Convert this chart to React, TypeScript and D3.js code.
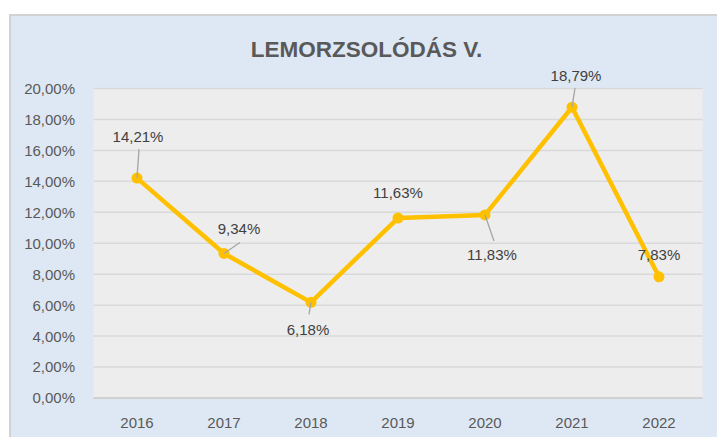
import React from "react";
import * as d3 from "d3";

const title = "LEMORZSOLÓDÁS V.";
const years = ["2016", "2017", "2018", "2019", "2020", "2021", "2022"];
const values = [14.21, 9.34, 6.18, 11.63, 11.83, 18.79, 7.83];
const yTicks = [0, 2, 4, 6, 8, 10, 12, 14, 16, 18, 20];

// label placement relative to its point: label center dx, baseline dy
const labelOffsets: [number, number][] = [
  [1, -36],
  [15, -19],
  [-3, 33],
  [0, -20],
  [7, 45],
  [4, -26],
  [0, -17],
];
// leader line end relative to its point (null = no leader)
const leaderEnds: ([number, number] | null)[] = [
  [2, -29],
  [16, -11],
  [-2, 12],
  null,
  [9, 26],
  [3, -19],
  null,
];

const W = 717;
const H = 437;
const plot = { left: 93.5, right: 702.5, top: 88.5, bottom: 398 };

const fmt = (v: number) => v.toFixed(2).replace(".", ",") + "%";

export default function App() {
  const x = d3.scaleBand<string>().domain(years).range([plot.left, plot.right]).padding(0);
  const y = d3.scaleLinear().domain([0, 20]).range([plot.bottom, plot.top]);
  const cx = (i: number) => (x(years[i]) as number) + x.bandwidth() / 2;
  const line = d3
    .line<number>()
    .x((_, i) => cx(i))
    .y((d) => y(d));

  const font = "'Liberation Sans', Arial, sans-serif";

  return (
    <svg
      width={W}
      height={H}
      style={{ position: "absolute", left: 0, top: 0, display: "block" }}
      fontFamily={font}
    >
      <rect x={0} y={0} width={W} height={H} fill="#ffffff" />
      <rect x={10} y={15} width={W + 10} height={H + 10} fill="#DEE8F4" stroke="#D2D2D2" strokeWidth={2} />
      <text x={366.5} y={57} textAnchor="middle" fontSize={22.5} fontWeight="bold" fill="#595959">
        {title}
      </text>
      <rect
        x={plot.left}
        y={plot.top}
        width={plot.right - plot.left}
        height={plot.bottom - plot.top}
        fill="#EDEDED"
      />
      {yTicks.map((t) => (
        <g key={t}>
          {t > 0 && (
            <line x1={plot.left} x2={plot.right} y1={y(t)} y2={y(t)} stroke="#D9D9D9" strokeWidth={1.5} />
          )}
          <text x={75} y={y(t)} dy="0.36em" textAnchor="end" fontSize={15} fill="#595959">
            {fmt(t)}
          </text>
        </g>
      ))}
      <line x1={plot.left} x2={plot.right} y1={y(0)} y2={y(0)} stroke="#D0D0D0" strokeWidth={2} />
      {years.map((yr, i) => (
        <text key={yr} x={cx(i)} y={428} textAnchor="middle" fontSize={15} fill="#595959">
          {yr}
        </text>
      ))}
      <path d={line(values) || ""} fill="none" stroke="#FFC000" strokeWidth={4.5} strokeLinejoin="round" />
      {values.map((v, i) => (
        <circle key={i} cx={cx(i)} cy={y(v)} r={5.5} fill="#FFC000" />
      ))}
      {values.map((v, i) => {
        const [dx, dy] = labelOffsets[i];
        const le = leaderEnds[i];
        const px = cx(i);
        const py = y(v);
        return (
          <g key={"l" + i}>
            {le && (
              <line x1={px} y1={py} x2={px + le[0]} y2={py + le[1]} stroke="#A6A6A6" strokeWidth={1.3} />
            )}
            <text x={px + dx} y={py + dy} textAnchor="middle" fontSize={15} fill="#404040">
              {fmt(v)}
            </text>
          </g>
        );
      })}
    </svg>
  );
}
